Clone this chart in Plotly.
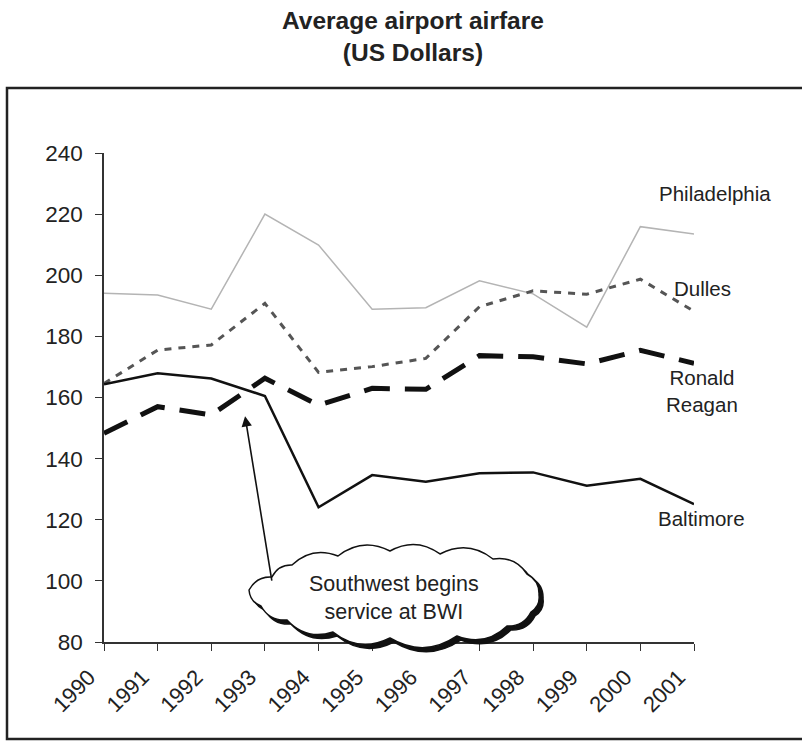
import numpy as np
import plotly.graph_objects as go

# Average airfare by airport, 1990-2001 (US dollars)
years = list(range(1990, 2002))
philadelphia = [194.1, 193.5, 188.9, 220.0, 209.9, 188.9, 189.4, 198.2, 193.9, 183.0, 215.9, 213.5]
dulles = [164.6, 175.5, 177.2, 190.8, 168.2, 170.1, 172.8, 189.7, 194.9, 193.8, 198.7, 188.2]
ronald_reagan = [148.3, 157.0, 154.3, 166.3, 157.5, 163.0, 162.7, 173.7, 173.3, 171.0, 175.4, 171.2]
baltimore = [164.3, 167.9, 166.2, 160.5, 124.1, 134.6, 132.4, 135.2, 135.5, 131.1, 133.4, 125.1]
y_ticks = [80, 100, 120, 140, 160, 180, 200, 220, 240]

FONT = "Liberation Sans, Arial, sans-serif"
INK = "#222222"

# plot-area geometry in pixels (used to place the callout shapes and labels)
W, H = 802, 743
L, R, T, B = 104, 108, 153, 101
PW, PH = W - L - R, H - T - B


def px_to_paper(px, py):
    return (px - L) / PW, (H - B - py) / PH


fig = go.Figure()
fig.add_trace(go.Scatter(x=years, y=philadelphia, mode="lines", name="Philadelphia",
                         line=dict(color="#b4b4b4", width=1.5)))
fig.add_trace(go.Scatter(x=years, y=dulles, mode="lines", name="Dulles",
                         line=dict(color="#555555", width=3, dash="7px,7px")))
fig.add_trace(go.Scatter(x=years, y=ronald_reagan, mode="lines", name="Ronald Reagan",
                         line=dict(color="#111111", width=5, dash="26px,15px")))
fig.add_trace(go.Scatter(x=years, y=baltimore, mode="lines", name="Baltimore",
                         line=dict(color="#111111", width=2.5)))

# series labels next to line ends (pixel centres)
labels = [
    ("Philadelphia", 715, 193),
    ("Dulles", 702, 288),
    ("Ronald<br>Reagan", 702, 391),
    ("Baltimore", 701, 518),
]
annotations = []
for text, px, py in labels:
    x, y = px_to_paper(px, py)
    annotations.append(dict(x=x, y=y, xref="paper", yref="paper", text=text, showarrow=False,
                            font=dict(family=FONT, size=20.5, color=INK),
                            xanchor="center", yanchor="middle", align="center"))

# chart title
tx, ty = px_to_paper(413, 37)
annotations.append(dict(x=tx, y=ty, xref="paper", yref="paper",
                        text="<b>Average airport airfare<br>(US Dollars)</b>", showarrow=False,
                        font=dict(family=FONT, size=24.5, color=INK),
                        xanchor="center", yanchor="middle", align="center"))

# cloud callout outline (pixel vertices, joined by outward bulging arcs)
cloud_pts = [(249, 590), (272, 577), (292, 565), (338, 556), (390, 551), (440, 554),
             (493, 559), (527, 574), (539, 595), (531, 612), (507, 626), (457, 636),
             (390, 638), (333, 632), (287, 620), (261, 606)]


def cloud_path(dx=0.0, dy=0.0):
    pts = np.array(cloud_pts, dtype=float) + [dx, dy]
    c = pts.mean(axis=0)
    parts = []
    for i in range(len(pts)):
        p0, p1 = pts[i], pts[(i + 1) % len(pts)]
        mid = (p0 + p1) / 2
        d = p1 - p0
        n = np.array([d[1], -d[0]])
        n /= np.linalg.norm(n)
        if np.dot(n, mid - c) < 0:
            n = -n
        ctrl = mid + n * np.linalg.norm(d) * 0.32
        if i == 0:
            x0, y0 = px_to_paper(*p0)
            parts.append(f"M {x0:.4f},{y0:.4f}")
        cx, cy = px_to_paper(*ctrl)
        x1, y1 = px_to_paper(*p1)
        parts.append(f"Q {cx:.4f},{cy:.4f} {x1:.4f},{y1:.4f}")
    return " ".join(parts) + " Z"


shapes = [
    # outer frame
    dict(type="rect", xref="paper", yref="paper",
         x0=px_to_paper(7, 0)[0], x1=px_to_paper(830, 0)[0],
         y0=px_to_paper(0, 739)[1], y1=px_to_paper(0, 88)[1],
         line=dict(color=INK, width=2.5), layer="below"),
    # cloud shadow and cloud body
    dict(type="path", xref="paper", yref="paper", path=cloud_path(4, 4),
         fillcolor="#111111", line=dict(color="#111111", width=1.5)),
    dict(type="path", xref="paper", yref="paper", path=cloud_path(),
         fillcolor="white", line=dict(color="#111111", width=1.5)),
]

# arrow from the cloud to the 1993 change
annotations.append(dict(x=1992.63, y=153.9, xref="x", yref="y", ax=27, ay=166,
                        axref="pixel", ayref="pixel", text="", showarrow=True,
                        arrowhead=2, arrowsize=1.3, arrowwidth=1.6, arrowcolor="#111111"))
cx_, cy_ = px_to_paper(394, 598)
annotations.append(dict(x=cx_, y=cy_, xref="paper", yref="paper",
                        text="Southwest begins<br>service at BWI", showarrow=False,
                        font=dict(family=FONT, size=21.5, color=INK),
                        xanchor="center", yanchor="middle", align="center"))

fig.update_layout(
    width=W, height=H,
    margin=dict(l=L, r=R, t=T, b=B),
    paper_bgcolor="white", plot_bgcolor="white",
    showlegend=False,
    xaxis=dict(range=[1990, 2001], tickmode="array", tickvals=years,
               ticktext=[str(y) for y in years], tickangle=-45,
               showgrid=False, zeroline=False, showline=True, linecolor="#333333",
               linewidth=1.5, ticks="outside", ticklen=7, tickcolor="#333333",
               ticklabelstandoff=5, ticklabelshift=-15,
               tickfont=dict(family=FONT, size=22, color=INK)),
    yaxis=dict(range=[80, 240], tickmode="array", tickvals=y_ticks,
               showgrid=False, zeroline=False, showline=True, linecolor="#333333",
               linewidth=1.5, ticks="outside", ticklen=7, tickcolor="#333333",
               ticklabelstandoff=8,
               tickfont=dict(family=FONT, size=22.5, color=INK)),
    shapes=shapes,
    annotations=annotations,
)

fig.write_html("out.html")
